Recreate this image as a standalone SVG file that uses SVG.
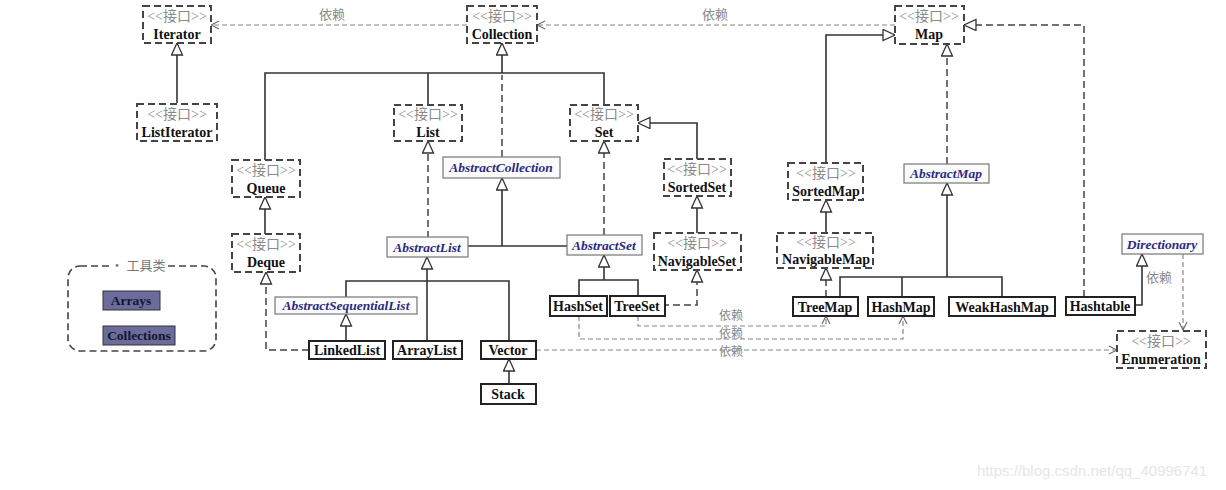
<svg xmlns="http://www.w3.org/2000/svg" width="1226" height="490" viewBox="0 0 1226 490">
<defs>
<style>
.if rect{fill:#fff;stroke:#444;stroke-width:2;stroke-dasharray:7 4}
.st{font-family:"Liberation Serif","Noto Sans CJK SC",serif;font-size:14px;fill:#8a8a8a;text-anchor:middle}
.nm{font-family:"Liberation Serif",serif;font-weight:bold;font-size:14px;fill:#111;text-anchor:middle}
.ab rect{fill:#fbfbfb;stroke:#777;stroke-width:1.2}
.ab text{font-family:"Liberation Serif",serif;font-style:italic;font-weight:bold;font-size:13.5px;fill:#2b2b82;text-anchor:middle}
.cl rect{fill:#fff;stroke:#222;stroke-width:2}
.tl rect{fill:#6c6c9c;stroke:#333;stroke-width:1}
.tl text{font-family:"Liberation Serif",serif;font-weight:bold;font-size:13.5px;fill:#15152e;text-anchor:middle}
.s{fill:none;stroke:#333;stroke-width:1.6}
.d{fill:none;stroke:#444;stroke-width:1.5;stroke-dasharray:7 4}
.dep{fill:none;stroke:#888;stroke-width:1.2;stroke-dasharray:5 3}
.lb{font-family:"Noto Sans CJK SC",sans-serif;font-size:13px;fill:#888;text-anchor:middle}
.lbs{font-family:"Noto Sans CJK SC",sans-serif;font-size:12px;fill:#888;text-anchor:middle}
</style>
<marker id="tri" viewBox="0 0 14 14" refX="13" refY="6" markerWidth="14" markerHeight="14" markerUnits="userSpaceOnUse" orient="auto">
<path d="M1,0.5 L13,6 L1,11.5 Z" fill="#fff" stroke="#333" stroke-width="1.3"/>
</marker>
<marker id="opn" viewBox="0 0 10 10" refX="9" refY="5" markerWidth="10" markerHeight="10" markerUnits="userSpaceOnUse" orient="auto">
<path d="M1,1 L9,5 L1,9" fill="none" stroke="#666" stroke-width="1.1"/>
</marker>
</defs>
<rect width="1226" height="490" fill="#fff"/>

<g id="connectors">
<path class="dep" d="M467,25 H211" marker-end="url(#opn)"/>
<path class="dep" d="M895,25 H537" marker-end="url(#opn)"/>
<path class="s" d="M177,103 V43" marker-end="url(#tri)"/>
<path class="s" d="M502,73 V43" marker-end="url(#tri)"/>
<path class="s" d="M265,160 V73 H604 V105"/>
<path class="s" d="M428,73 V105"/>
<path class="d" d="M502,157 V75"/>
<path class="d" d="M428,238 V141" marker-end="url(#tri)"/>
<path class="d" d="M604,235 V141" marker-end="url(#tri)"/>
<path class="s" d="M697,159 V123 H638" marker-end="url(#tri)"/>
<path class="s" d="M697,233 V196" marker-end="url(#tri)"/>
<path class="s" d="M265,234 V197" marker-end="url(#tri)"/>
<path class="s" d="M502,246 V178" marker-end="url(#tri)"/>
<path class="s" d="M468,246 H567"/>
<path class="s" d="M604,280 V255" marker-end="url(#tri)"/>
<path class="s" d="M579,295 V280 H638 V295"/>
<path class="d" d="M662,305 H697 V270" marker-end="url(#tri)"/>
<path class="s" d="M427,342 V257" marker-end="url(#tri)"/>
<path class="s" d="M346,298 V281 H509 V342"/>
<path class="s" d="M346,342 V314" marker-end="url(#tri)"/>
<path class="d" d="M309,350 H266 V272" marker-end="url(#tri)"/>
<path class="s" d="M509,384 V359" marker-end="url(#tri)"/>
<path class="dep" d="M536,350 H1117" marker-end="url(#opn)"/>
<path class="dep" d="M638,316 V326 H826 V316" marker-end="url(#opn)"/>
<path class="dep" d="M579,316 V339 H903 V316" marker-end="url(#opn)"/>
<path class="s" d="M826,163 V35 H895" marker-end="url(#tri)"/>
<path class="s" d="M826,233 V200" marker-end="url(#tri)"/>
<path class="d" d="M826,297 V268" marker-end="url(#tri)"/>
<path class="d" d="M947,164 V44" marker-end="url(#tri)"/>
<path class="s" d="M947,277 V183" marker-end="url(#tri)"/>
<path class="s" d="M840,297 V277 H1002 V297"/>
<path class="s" d="M902,277 V297"/>
<path class="d" d="M1084,297 V25 H964" marker-end="url(#tri)"/>
<path class="s" d="M1135,305 H1142 V254" marker-end="url(#tri)"/>
<path class="dep" d="M1183,254 V330" marker-end="url(#opn)"/>
<text class="lb" x="332" y="19">依赖</text>
<text class="lb" x="715" y="19">依赖</text>
<text class="lbs" x="731" y="320">依赖</text>
<text class="lbs" x="731" y="338">依赖</text>
<text class="lbs" x="731" y="356">依赖</text>
<text class="lb" x="1159" y="282">依赖</text>
</g>

<g id="Iterator" class="if"><rect x="143" y="6" width="68" height="37"/><text class="st" x="177" y="21">&lt;&lt;接口&gt;&gt;</text><text class="nm" x="177" y="39">Iterator</text></g>
<g id="Collection" class="if"><rect x="467" y="6" width="70" height="37"/><text class="st" x="502" y="21">&lt;&lt;接口&gt;&gt;</text><text class="nm" x="502" y="39">Collection</text></g>
<g id="Map" class="if"><rect x="895" y="6" width="69" height="38"/><text class="st" x="929" y="21">&lt;&lt;接口&gt;&gt;</text><text class="nm" x="929" y="39">Map</text></g>
<g id="ListIterator" class="if"><rect x="137" y="104" width="80" height="37"/><text class="st" x="177" y="119">&lt;&lt;接口&gt;&gt;</text><text class="nm" x="177" y="137">ListIterator</text></g>
<g id="List" class="if"><rect x="394" y="105" width="68" height="36"/><text class="st" x="428" y="119">&lt;&lt;接口&gt;&gt;</text><text class="nm" x="428" y="137">List</text></g>
<g id="Set" class="if"><rect x="570" y="105" width="68" height="36"/><text class="st" x="604" y="119">&lt;&lt;接口&gt;&gt;</text><text class="nm" x="604" y="137">Set</text></g>
<g id="Queue" class="if"><rect x="232" y="160" width="68" height="37"/><text class="st" x="266" y="175">&lt;&lt;接口&gt;&gt;</text><text class="nm" x="266" y="193">Queue</text></g>
<g id="Deque" class="if"><rect x="232" y="234" width="68" height="38"/><text class="st" x="266" y="249">&lt;&lt;接口&gt;&gt;</text><text class="nm" x="266" y="267">Deque</text></g>
<g id="SortedSet" class="if"><rect x="664" y="159" width="67" height="37"/><text class="st" x="697" y="174">&lt;&lt;接口&gt;&gt;</text><text class="nm" x="697" y="192">SortedSet</text></g>
<g id="NavigableSet" class="if"><rect x="654" y="233" width="87" height="37"/><text class="st" x="697" y="248">&lt;&lt;接口&gt;&gt;</text><text class="nm" x="697" y="266">NavigableSet</text></g>
<g id="SortedMap" class="if"><rect x="788" y="163" width="75" height="37"/><text class="st" x="826" y="178">&lt;&lt;接口&gt;&gt;</text><text class="nm" x="826" y="196">SortedMap</text></g>
<g id="NavigableMap" class="if"><rect x="777" y="233" width="96" height="35"/><text class="st" x="826" y="247">&lt;&lt;接口&gt;&gt;</text><text class="nm" x="826" y="264">NavigableMap</text></g>
<g id="Enumeration" class="if"><rect x="1117" y="331" width="89" height="37"/><text class="st" x="1161" y="346">&lt;&lt;接口&gt;&gt;</text><text class="nm" x="1161" y="364">Enumeration</text></g>

<g id="AbstractCollection" class="ab"><rect x="443" y="157" width="117" height="21"/><text x="501" y="172">AbstractCollection</text></g>
<g id="AbstractList" class="ab"><rect x="387" y="237" width="81" height="20"/><text x="427" y="252">AbstractList</text></g>
<g id="AbstractSet" class="ab"><rect x="567" y="235" width="75" height="20"/><text x="604" y="250">AbstractSet</text></g>
<g id="AbstractSequentialList" class="ab"><rect x="275" y="297" width="142" height="17"/><text x="346" y="310">AbstractSequentialList</text></g>
<g id="AbstractMap" class="ab"><rect x="904" y="164" width="85" height="19"/><text x="946" y="178">AbstractMap</text></g>
<g id="Directionary" class="ab"><rect x="1122" y="234" width="81" height="20"/><text x="1162" y="249">Directionary</text></g>

<g id="HashSet" class="cl"><rect x="550" y="296" width="57" height="20"/><text class="nm" x="578" y="311">HashSet</text></g>
<g id="TreeSet" class="cl"><rect x="610" y="296" width="55" height="20"/><text class="nm" x="637" y="311">TreeSet</text></g>
<g id="LinkedList" class="cl"><rect x="309" y="341" width="76" height="18"/><text class="nm" x="347" y="355">LinkedList</text></g>
<g id="ArrayList" class="cl"><rect x="393" y="341" width="69" height="18"/><text class="nm" x="427" y="355">ArrayList</text></g>
<g id="Vector" class="cl"><rect x="481" y="341" width="55" height="18"/><text class="nm" x="508" y="355">Vector</text></g>
<g id="Stack" class="cl"><rect x="481" y="384" width="55" height="20"/><text class="nm" x="508" y="399">Stack</text></g>
<g id="TreeMap" class="cl"><rect x="793" y="297" width="65" height="19"/><text class="nm" x="825" y="312">TreeMap</text></g>
<g id="HashMap" class="cl"><rect x="868" y="297" width="66" height="19"/><text class="nm" x="901" y="312">HashMap</text></g>
<g id="WeakHashMap" class="cl"><rect x="949" y="297" width="106" height="19"/><text class="nm" x="1002" y="312">WeakHashMap</text></g>
<g id="Hashtable" class="cl"><rect x="1066" y="297" width="69" height="18"/><text class="nm" x="1100" y="311">Hashtable</text></g>

<g id="tools">
<rect x="68" y="266" width="148" height="85" rx="12" fill="none" stroke="#444" stroke-width="1.6" stroke-dasharray="7 4"/>
<rect x="110" y="258" width="56" height="14" fill="#fff"/>
<text x="138" y="270" font-family="Noto Sans CJK SC, sans-serif" font-size="13" fill="#777" text-anchor="middle">· 工具类</text>
<g id="Arrays" class="tl"><rect x="103" y="291" width="57" height="19"/><text x="131" y="305">Arrays</text></g>
<g id="Collections" class="tl"><rect x="103" y="326" width="72" height="19"/><text x="139" y="340">Collections</text></g>
</g>

<text x="977" y="476" font-family="Liberation Sans, sans-serif" font-size="15" fill="#e6e6e6">https://blog.csdn.net/qq_40996741</text>
</svg>
